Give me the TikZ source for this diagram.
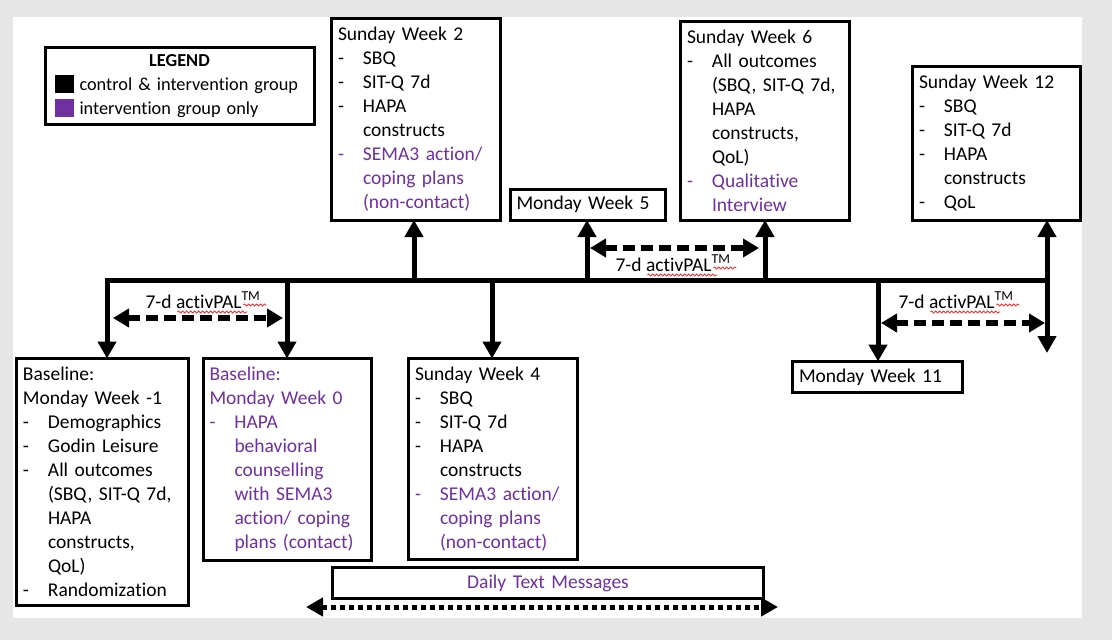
\documentclass[tikz,border=0pt]{standalone}
\usepackage{fontspec}
\setmainfont{Carlito}[Ligatures=NoCommon]
\usetikzlibrary{arrows.meta,decorations.pathmorphing}
\definecolor{ipurple}{HTML}{7030A0}
\definecolor{bggrey}{HTML}{E6E6E6}
\newcommand\boxfont{\fontsize{19.5}{24}\selectfont}
\newcommand\legfont{\fontsize{18.3}{24}\selectfont}
\newcommand\dashitem[1]{\makebox[25pt][l]{-}#1}
\newcommand\contline[1]{\hspace*{25pt}#1}
\newcommand\purpleitem[1]{\textcolor{ipurple}{\dashitem{#1}}}
\newcommand\purplecont[1]{\textcolor{ipurple}{\contline{#1}}}
\newcommand\legsq[1]{\textcolor{#1}{\rule[-2.5pt]{19pt}{17.5pt}}\hspace{6pt}}
\newcommand\palabel{7-d activPAL\textsuperscript{TM}}

\begin{document}
\begin{tikzpicture}[x=1pt, y=-1pt,
    box/.style={draw, line width=3pt, outer sep=0pt, fill=white, align=left, inner xsep=6.5pt, inner ysep=8.5pt, font=\boxfont},
    onebox/.style={box, inner ysep=7pt},
    stem/.style={line width=5pt, -{Triangle[length=17pt,width=18pt]}},
    palarrow/.style={line width=5.5pt, dash pattern=on 12pt off 6pt, {Triangle[length=16pt,width=18pt]}-{Triangle[length=16pt,width=18pt]}},
    smsarrow/.style={line width=5pt, dash pattern=on 5.5pt off 3.5pt, {Triangle[length=17pt,width=18pt]}-{Triangle[length=17pt,width=18pt]}},
    pal/.style={font=\boxfont, inner sep=0pt, anchor=base},
    squig/.style={red, line width=0.6pt, decorate, decoration={snake, amplitude=1.1pt, segment length=4pt}}]
    \useasboundingbox (0,0) rectangle (1112,640);
    \fill[bggrey] (0,0) rectangle (1112,640);
    \fill[white] (13,17) rectangle (1082,618);

    \node[box, inner xsep=9.5pt, inner ysep=7pt, text width=250pt, anchor=north west, font=\legfont] (legend) at (45,47)
        {\makebox[\linewidth][c]{\textbf{LEGEND}}\\[0pt]
         \legsq{black}control \& intervention group\\
         \legsq{ipurple}intervention group only};

    \node[box, text width=156pt, anchor=south west] (sw2) at (331.5,220)
        {Sunday Week 2\\ \dashitem{SBQ}\\ \dashitem{SIT-Q 7d}\\ \dashitem{HAPA}\\ \contline{constructs}\\
         \purpleitem{SEMA3 action/}\\ \purplecont{coping plans}\\ \purplecont{(non-contact)}};
    \node[onebox, text width=142.5pt, anchor=south west] (mw5) at (510,220) {Monday Week 5};
    \node[box, text width=156pt, anchor=south west] (sw6) at (680.5,220)
        {Sunday Week 6\\ \dashitem{All outcomes}\\ \contline{(SBQ, SIT-Q 7d,}\\ \contline{HAPA}\\ \contline{constructs,}\\
         \contline{QoL)}\\ \purpleitem{Qualitative}\\ \purplecont{Interview}};
    \node[box, text width=155pt, anchor=south west] (sw12) at (912.5,220)
        {Sunday Week 12\\ \dashitem{SBQ}\\ \dashitem{SIT-Q 7d}\\ \dashitem{HAPA}\\ \contline{constructs}\\ \dashitem{QoL}};

    \node[box, text width=159pt, anchor=north west] (base1) at (16.5,358.5)
        {Baseline:\\ Monday Week -1\\ \dashitem{Demographics}\\ \dashitem{Godin Leisure}\\ \dashitem{All outcomes}\\
         \contline{(SBQ, SIT-Q 7d,}\\ \contline{HAPA}\\ \contline{constructs,}\\ \contline{QoL)}\\ \dashitem{Randomization}};
    \node[box, text=ipurple, text width=155.5pt, anchor=north west] (mw0) at (203,358.5)
        {Baseline:\\ Monday Week 0\\ \dashitem{HAPA}\\ \contline{behavioral}\\ \contline{counselling}\\
         \contline{with SEMA3}\\ \contline{action/ coping}\\ \contline{plans (contact)}};
    \node[box, text width=156pt, anchor=north west] (sw4) at (408.5,358.5)
        {Sunday Week 4\\ \dashitem{SBQ}\\ \dashitem{SIT-Q 7d}\\ \dashitem{HAPA}\\ \contline{constructs}\\
         \purpleitem{SEMA3 action/}\\ \purplecont{coping plans}\\ \purplecont{(non-contact)}};
    \node[onebox, text width=157pt, anchor=north west] (mw11) at (792.5,361.5) {Monday Week 11};
    \node[onebox, text=ipurple, align=center, text width=418pt, anchor=north west] (dtm) at (332.5,567.5) {Daily Text Messages};

    \coordinate (tlL) at (104.5,280);
    \coordinate (tlR) at (1049.5,280);
    \coordinate (tB1) at (107,280);
    \coordinate (tB0) at (287,280);
    \coordinate (tW2) at (414,280);
    \coordinate (tW4) at (492,280);
    \coordinate (tW5) at (587,280);
    \coordinate (tW6) at (765,280);
    \coordinate (tW11) at (878,280);
    \coordinate (tW12) at (1047,353);
    \draw[line width=5pt] (tlL) -- (tlR);

    \draw[stem] (tB1) -- (tB1 |- base1.north);
    \draw[stem] (tB0) -- (tB0 |- mw0.north);
    \draw[stem] (tW4) -- (tW4 |- sw4.north);
    \draw[stem] (tW11) -- (tW11 |- mw11.north);
    \draw[stem] (tW2) -- (tW2 |- sw2.south);
    \draw[stem] (tW5) -- (tW5 |- mw5.south);
    \draw[stem] (tW6) -- (tW6 |- sw6.south);
    \draw[stem, {Triangle[length=17pt,width=18pt]}-{Triangle[length=17pt,width=18pt]}] (tW12 |- sw12.south) -- (tW12);

    \coordinate (palA1) at (113,318);
    \coordinate (palA2) at (283,318);
    \coordinate (palB1) at (590,248);
    \coordinate (palB2) at (759,248);
    \coordinate (palC1) at (881,323);
    \coordinate (palC2) at (1045,323);
    \draw[palarrow] (palA1) -- (palA2);
    \draw[palarrow] (palB1) -- (palB2);
    \draw[palarrow] (palC1) -- (palC2);
    \node[pal] (palA) at (203,308) {\palabel};
    \node[pal] (palB) at (673,271) {\palabel};
    \node[pal] (palC) at (956,308) {\palabel};
    \foreach \lbl in {palA,palB,palC} {
        \draw[squig] ([shift={(32,4)}]\lbl.base west) -- ++(70,0);
        \draw[squig] ([shift={(98,-3)}]\lbl.base west) -- ++(23,0);
    }

    \coordinate (smsL) at (306,607);
    \coordinate (smsR) at (778,607);
    \draw[smsarrow] (smsL) -- (smsR);
\end{tikzpicture}
\end{document}
